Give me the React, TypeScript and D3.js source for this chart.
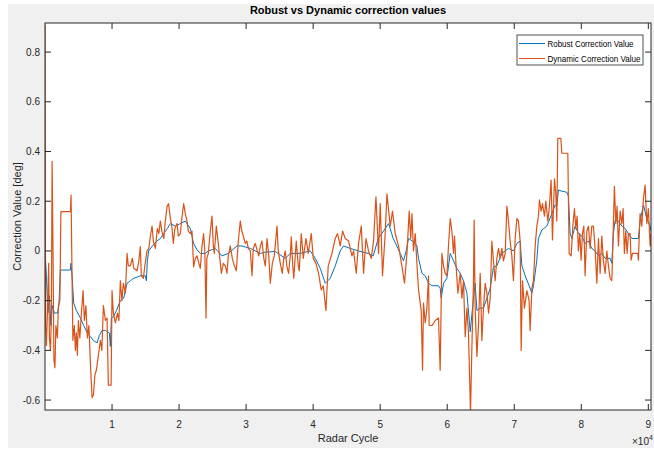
import React from 'react';
import * as d3 from 'd3';

const robustSeries: [number, number][] = [
  [0,0.0],[210,-0.10],[430,-0.25],[660,-0.18],[880,-0.30],[1100,-0.22],[1400,-0.25],[1850,-0.25],[2070,-0.22],[2300,-0.077],[3790,-0.077],[3860,-0.05],[4040,-0.10],[4280,-0.21],[4680,-0.24],[5280,-0.27],[5770,-0.30],[6320,-0.33],[6770,-0.345],[7220,-0.36],[7770,-0.37],[8110,-0.34],[8510,-0.32],[9010,-0.32],[9600,-0.33],[9750,-0.385],[9900,-0.27],[10200,-0.265],[10650,-0.24],[11240,-0.20],[11730,-0.19],[12240,-0.13],[12730,-0.12],[13230,-0.11],[13780,-0.105],[14220,-0.10],[14970,-0.10],[15120,-0.12],[15270,-0.04],[15460,0.0],[16010,0.02],[16710,0.04],[17210,0.05],[17700,0.07],[18250,0.09],[18700,0.11],[19440,0.10],[20190,0.11],[20930,0.12],[21680,0.09],[22170,0.03],[22680,0.004],[23170,-0.01],[23920,-0.01],[24360,0.0],[25410,0.01],[26410,-0.02],[27340,-0.01],[28640,0.02],[29390,0.02],[30630,0.01],[32120,-0.01],[32860,-0.005],[34350,-0.002],[35840,-0.03],[36590,-0.01],[38080,-0.01],[39570,0.0],[40320,-0.03],[41060,-0.07],[41810,-0.13],[42550,-0.11],[43300,-0.06],[44040,0.0],[44540,0.02],[45540,0.01],[46730,0.0],[48220,-0.01],[48960,-0.02],[49710,0.05],[50750,0.09],[51250,0.11],[51950,0.05],[52990,-0.01],[53480,-0.04],[53880,0.0],[54230,0.05],[54780,0.04],[55230,0.03],[55480,0.02],[55720,-0.03],[56230,-0.09],[56720,-0.10],[57210,-0.13],[57720,-0.14],[58700,-0.14],[58950,-0.15],[59100,-0.19],[59450,-0.13],[59950,-0.11],[60450,-0.01],[60940,-0.04],[61440,-0.07],[61940,-0.09],[62430,-0.12],[62940,-0.17],[63430,-0.325],[63920,-0.19],[64170,-0.13],[64430,-0.24],[64920,-0.23],[65410,-0.23],[65920,-0.19],[66410,-0.15],[66900,-0.065],[67410,-0.06],[68150,-0.01],[68650,0.0],[69140,0.01],[69880,0.0],[70390,0.03],[70880,0.04],[71140,-0.06],[71630,-0.10],[72220,-0.14],[72630,-0.17],[72870,-0.14],[73370,-0.037],[73610,0.05],[74120,0.084],[74860,0.10],[75610,0.15],[76100,0.185],[76350,0.18],[76590,0.245],[77140,0.24],[77850,0.236],[78080,0.22],[78340,0.07],[78590,0.05],[79080,0.10],[79570,0.07],[80080,0.06],[80570,0.03],[81070,0.04],[81570,0.01],[82060,0.0],[82560,-0.02],[83060,-0.01],[83560,-0.03],[84300,-0.03],[84550,-0.05],[84790,0.07],[85050,0.124],[85540,0.12],[86050,0.10],[86540,0.09],[87030,0.07],[87540,0.05],[88520,0.05],[88770,0.12],[89270,0.185],[89770,0.13],[90270,0.10],[90400,0.08]
];

const dynamicSeries: [number, number][] = [
  [0,0.91],[90,-0.30],[210,-0.38],[360,-0.25],[550,-0.05],[660,-0.35],[810,-0.40],[950,-0.28],[1060,0.36],[1180,0.05],[1330,-0.44],[1480,-0.47],[1630,-0.30],[1850,-0.35],[2000,-0.22],[2220,-0.20],[2370,0.158],[3040,0.158],[3790,0.158],[3890,0.225],[4010,-0.05],[4160,-0.36],[4380,-0.30],[4530,-0.40],[4680,-0.33],[4830,-0.42],[4980,-0.28],[5200,-0.35],[5430,-0.25],[5680,-0.16],[5870,-0.28],[6100,-0.22],[6320,-0.35],[6550,-0.30],[6770,-0.45],[7020,-0.59],[7220,-0.58],[7440,-0.50],[7660,-0.48],[7960,-0.42],[8260,-0.36],[8480,-0.40],[8710,-0.22],[9010,-0.28],[9260,-0.27],[9450,-0.54],[9860,-0.54],[10000,-0.16],[10200,-0.25],[10500,-0.29],[10800,-0.25],[11020,-0.28],[11240,-0.12],[11470,-0.20],[11690,-0.13],[11990,-0.17],[12240,-0.01],[12430,-0.06],[12730,-0.06],[13030,-0.03],[13250,-0.07],[13730,-0.08],[14000,-0.04],[14220,0.017],[14370,-0.10],[14670,-0.11],[14900,-0.06],[15220,0.00],[15490,0.01],[15720,0.06],[15970,0.10],[16160,0.04],[16460,0.01],[16760,0.09],[16980,0.07],[17210,0.12],[17430,0.08],[17730,0.05],[17950,0.12],[18210,0.18],[18440,0.19],[18700,0.13],[18920,0.10],[19140,0.03],[19370,0.09],[19700,0.11],[19890,0.06],[20190,0.07],[20410,0.13],[20680,0.19],[20930,0.15],[21190,0.12],[21380,0.08],[21680,0.07],[21930,0.08],[22170,-0.064],[22420,-0.03],[22680,-0.02],[22950,-0.05],[23170,-0.07],[23390,0.01],[23660,0.07],[23840,0.00],[24020,-0.27],[24140,-0.03],[24360,-0.01],[24660,0.08],[24910,0.14],[25110,0.02],[25260,-0.01],[25560,0.10],[25850,0.03],[26080,-0.03],[26300,-0.09],[26600,-0.05],[26900,-0.06],[27150,-0.09],[27340,-0.02],[27640,0.02],[27940,-0.03],[28240,-0.06],[28540,-0.08],[28840,0.04],[29130,0.12],[29360,0.08],[29580,0.06],[29880,0.03],[30100,0.04],[30330,0.01],[30630,0.00],[30880,-0.10],[31070,0.01],[31370,0.03],[31670,0.00],[31890,-0.02],[32120,0.02],[32370,0.04],[32640,-0.03],[32860,-0.06],[33120,0.05],[33380,-0.02],[33610,-0.13],[33910,-0.05],[34200,-0.02],[34610,0.10],[34800,0.00],[35100,-0.05],[35400,-0.09],[35620,-0.03],[35840,0.00],[36070,-0.06],[36340,-0.09],[36590,-0.02],[36740,0.057],[36960,-0.06],[37110,-0.11],[37480,0.04],[37780,-0.06],[37930,-0.08],[38230,0.07],[38530,-0.03],[38930,0.05],[39270,-0.01],[39720,0.07],[40020,-0.03],[40420,-0.05],[40810,-0.09],[41210,-0.157],[41510,-0.14],[41910,-0.24],[42250,-0.06],[42810,-0.01],[43300,0.05],[43640,0.07],[44040,0.02],[44390,0.08],[44790,0.05],[45280,0.04],[45790,-0.02],[46030,0.00],[46430,-0.09],[46770,0.03],[47180,0.10],[47520,-0.09],[47880,0.05],[48260,0.00],[48670,-0.03],[49010,0.04],[49370,0.218],[49750,-0.01],[50010,0.19],[50350,-0.10],[50750,0.07],[51010,0.23],[51500,0.10],[51840,0.16],[52240,0.07],[52740,0.02],[53240,-0.06],[53630,-0.13],[53990,-0.01],[54330,0.16],[54560,0.05],[54740,0.15],[54970,0.00],[55230,0.07],[55480,-0.05],[55720,-0.157],[56120,-0.24],[56320,-0.48],[56460,-0.21],[56720,-0.29],[56970,-0.23],[57210,-0.10],[57310,-0.30],[57760,-0.30],[58210,-0.28],[58700,-0.27],[58950,-0.48],[59210,-0.01],[59450,-0.06],[59700,-0.09],[59950,-0.10],[60190,0.02],[60450,0.13],[60700,0.08],[60940,-0.01],[61090,0.06],[61300,-0.05],[61590,-0.17],[61940,-0.09],[62190,-0.19],[62430,-0.12],[62680,-0.345],[62940,-0.23],[63170,-0.33],[63320,-0.49],[63470,-0.65],[63680,-0.39],[63920,-0.12],[64020,0.124],[64170,-0.23],[64430,-0.425],[64660,-0.30],[64920,-0.09],[65170,-0.36],[65410,-0.23],[65660,-0.13],[65920,-0.17],[66160,-0.25],[66410,-0.19],[66660,0.04],[66900,-0.04],[67150,-0.12],[67410,-0.03],[67650,0.01],[67900,-0.03],[68150,0.01],[68390,-0.04],[68650,-0.01],[68900,0.18],[69140,0.12],[69390,0.04],[69640,-0.02],[69880,-0.12],[70140,0.05],[70390,0.13],[70630,0.12],[70880,0.04],[71030,-0.40],[71230,-0.12],[71520,-0.23],[71880,-0.16],[72220,-0.20],[72370,-0.32],[72630,-0.15],[72870,-0.12],[73120,0.02],[73370,0.10],[73610,0.14],[73760,0.205],[74010,0.16],[74210,0.19],[74510,0.14],[74710,0.20],[75010,0.12],[75210,0.17],[75500,0.285],[75700,0.044],[76000,0.29],[76200,0.23],[76350,0.12],[76500,0.453],[76950,0.453],[77100,0.393],[77990,0.393],[78190,-0.01],[78490,-0.02],[78740,0.10],[78980,0.17],[79190,0.09],[79380,0.14],[79570,0.0],[79780,0.07],[79980,-0.037],[80170,0.07],[80380,0.10],[80570,-0.10],[80830,0.08],[81070,0.10],[81320,0.01],[81570,0.10],[81810,0.10],[82060,0.01],[82320,-0.13],[82560,0.05],[82810,-0.09],[83060,0.06],[83300,-0.04],[83560,-0.09],[83810,0.0],[84050,-0.06],[84300,-0.11],[84550,-0.12],[84640,-0.05],[84940,0.26],[85150,0.11],[85340,0.18],[85540,0.02],[85790,0.16],[86050,0.11],[86240,0.17],[86430,-0.01],[86640,0.08],[86840,-0.01],[87030,0.07],[87280,0.07],[87430,-0.037],[87630,-0.01],[88430,-0.01],[88520,-0.037],[88770,0.15],[89030,0.10],[89270,0.21],[89520,0.265],[89770,0.11],[90010,0.17],[90270,0.02],[90400,0.07]
];

const xTickValues = [10000, 20000, 30000, 40000, 50000, 60000, 70000, 80000, 90000];
const xTickLabels = ['1', '2', '3', '4', '5', '6', '7', '8', '9'];
const yTickValues = [-0.6, -0.4, -0.2, 0, 0.2, 0.4, 0.6, 0.8];
const yTickLabels = ['-0.6', '-0.4', '-0.2', '0', '0.2', '0.4', '0.6', '0.8'];
const seriesNames = ['Robust Correction Value', 'Dynamic Correction Value'];
const seriesColors = ['#0072BD', '#D95319'];

const W = 654;
const H = 450;
const plot = { left: 45, right: 651, top: 23, bottom: 410 };
const axisColor = '#262626';
const font = "'Liberation Sans', Arial, Helvetica, sans-serif";

export default function App() {
  const x = d3.scaleLinear().domain([0, 90400]).range([plot.left, plot.right]);
  const y = d3.scaleLinear().domain([-0.64, 0.917]).range([plot.bottom, plot.top]);
  const line = d3.line<[number, number]>().x(d => x(d[0])).y(d => y(d[1]));
  const tick = 6;

  return (
    <svg width={W} height={H} style={{ position: 'absolute', left: 0, top: 0, background: '#fff' }}>
      <defs>
        <clipPath id="plotClip">
          <rect x={plot.left} y={plot.top} width={plot.right - plot.left} height={plot.bottom - plot.top} />
        </clipPath>
      </defs>
      <rect x={8} y={4} width={W - 8} height={H - 6} fill="#f0f0f0" />
      <rect x={plot.left} y={plot.top} width={plot.right - plot.left} height={plot.bottom - plot.top} fill="#fff" />

      <g clipPath="url(#plotClip)" fill="none" strokeLinejoin="round">
        <path d={line(robustSeries) || ''} stroke={seriesColors[0]} strokeWidth={1} />
        <path d={line(dynamicSeries) || ''} stroke={seriesColors[1]} strokeWidth={1.2} />
      </g>

      <g stroke={axisColor} strokeWidth={1}>
        {xTickValues.map(v => (
          <g key={'xt' + v}>
            <line x1={x(v)} x2={x(v)} y1={plot.bottom} y2={plot.bottom - tick} />
            <line x1={x(v)} x2={x(v)} y1={plot.top} y2={plot.top + tick} />
          </g>
        ))}
        {yTickValues.map(v => (
          <g key={'yt' + v}>
            <line x1={plot.left} x2={plot.left + tick} y1={y(v)} y2={y(v)} />
            <line x1={plot.right} x2={plot.right - tick} y1={y(v)} y2={y(v)} />
          </g>
        ))}
        <rect x={plot.left} y={plot.top} width={plot.right - plot.left} height={plot.bottom - plot.top} fill="none" />
      </g>

      <g fontFamily={font} fontSize={10} fill={axisColor}>
        {xTickValues.map((v, i) => (
          <text key={'xl' + v} x={x(v)} y={428} textAnchor="middle">{xTickLabels[i]}</text>
        ))}
        {yTickValues.map((v, i) => (
          <text key={'yl' + v} x={40} y={y(v) + 3.5} textAnchor="end">{yTickLabels[i]}</text>
        ))}
        <text x={632} y={445} fontSize={10}>×10<tspan dy={-5} fontSize={7}>4</tspan></text>
      </g>

      <text x={(plot.left + plot.right) / 2} y={14} textAnchor="middle" fontFamily={font} fontSize={11} fontWeight="bold" fill="#000">
        Robust vs Dynamic correction values
      </text>
      <text x={(plot.left + plot.right) / 2} y={442} textAnchor="middle" fontFamily={font} fontSize={11} fill={axisColor}>
        Radar Cycle
      </text>
      <text transform={`translate(21, ${(plot.top + plot.bottom) / 2}) rotate(-90)`} textAnchor="middle" fontFamily={font} fontSize={11} fill={axisColor}>
        Correction Value [deg]
      </text>

      <g>
        <rect x={517} y={35} width={126} height={30} fill="#fff" stroke={axisColor} strokeWidth={0.8} />
        {seriesNames.map((name, i) => (
          <g key={name}>
            <line x1={519} x2={545} y1={43.5 + i * 15} y2={43.5 + i * 15} stroke={seriesColors[i]} strokeWidth={1} />
            <text x={547.5} y={46.5 + i * 15} fontFamily={font} fontSize={9} fill="#000"
              textLength={i === 0 ? 86 : 93} lengthAdjust="spacingAndGlyphs">{name}</text>
          </g>
        ))}
      </g>
    </svg>
  );
}
